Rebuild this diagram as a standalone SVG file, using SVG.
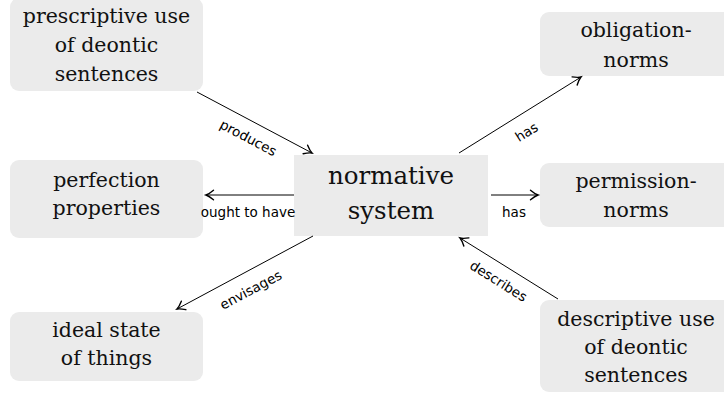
<svg xmlns="http://www.w3.org/2000/svg" width="724" height="396" viewBox="0 0 724 396">
<style>
.box{fill:#ebebeb;stroke:none}
.nt{font-family:"DejaVu Serif","Liberation Serif",serif;font-size:20.5px;fill:#111;text-anchor:middle}
.big{font-size:24.5px}
.el{font-family:"DejaVu Sans","Noto Sans",sans-serif;font-size:13.5px;fill:#000;text-anchor:middle}
.conn{stroke:#000;stroke-width:1;fill:none;marker-end:url(#arr)}
</style>
<defs>
<marker id="arr" markerUnits="userSpaceOnUse" markerWidth="14" markerHeight="14" viewBox="-10 -7 12 14" refX="0" refY="0" orient="auto">
<path d="M-7.5,-4.8 Q-3,-1 0,0 Q-3,1 -7.5,4.8" fill="none" stroke="#000" stroke-width="1.4" stroke-linecap="round"/>
</marker>
</defs>
<g id="prescriptive">
<rect class="box" x="10" y="-2" width="193" height="93" rx="9"/>
<text class="nt" x="106.5" y="23">prescriptive use</text>
<text class="nt" x="106.5" y="52">of deontic</text>
<text class="nt" x="106.5" y="81">sentences</text>
</g>
<g id="perfection">
<rect class="box" x="10" y="160" width="193" height="78" rx="9"/>
<text class="nt" x="106.5" y="187">perfection</text>
<text class="nt" x="106.5" y="215">properties</text>
</g>
<g id="ideal">
<rect class="box" x="10" y="312" width="193" height="69" rx="9"/>
<text class="nt" x="106.5" y="337">ideal state</text>
<text class="nt" x="106.5" y="365">of things</text>
</g>
<g id="normative">
<rect class="box" x="294" y="155" width="194" height="81"/>
<text class="nt big" x="391" y="184">normative</text>
<text class="nt big" x="391" y="219">system</text>
</g>
<g id="obligation">
<rect class="box" x="540" y="12" width="193" height="64" rx="9"/>
<text class="nt" x="636" y="37">obligation-</text>
<text class="nt" x="636" y="67">norms</text>
</g>
<g id="permission">
<rect class="box" x="540" y="163" width="193" height="64" rx="9"/>
<text class="nt" x="636" y="188">permission-</text>
<text class="nt" x="636" y="217">norms</text>
</g>
<g id="descriptive">
<rect class="box" x="540" y="300" width="193" height="92" rx="9"/>
<text class="nt" x="636" y="326">descriptive use</text>
<text class="nt" x="636" y="354">of deontic</text>
<text class="nt" x="636" y="382">sentences</text>
</g>
<g id="connectors">
<line class="conn" x1="197" y1="92" x2="312" y2="153"/>
<line class="conn" x1="294" y1="195" x2="206" y2="195"/>
<line class="conn" x1="491" y1="195" x2="538" y2="195"/>
<line class="conn" x1="459" y1="153" x2="581" y2="77"/>
<line class="conn" x1="313" y1="236" x2="177" y2="309"/>
<line class="conn" x1="558" y1="299" x2="460" y2="238"/>
<text class="el" transform="translate(246,142) rotate(28)">produces</text>
<text class="el" x="248" y="217">ought to have</text>
<text class="el" x="514" y="217">has</text>
<text class="el" transform="translate(529,136) rotate(-32)">has</text>
<text class="el" transform="translate(253,294) rotate(-28)">envisages</text>
<text class="el" transform="translate(496,285) rotate(32)">describes</text>
</g>
</svg>
